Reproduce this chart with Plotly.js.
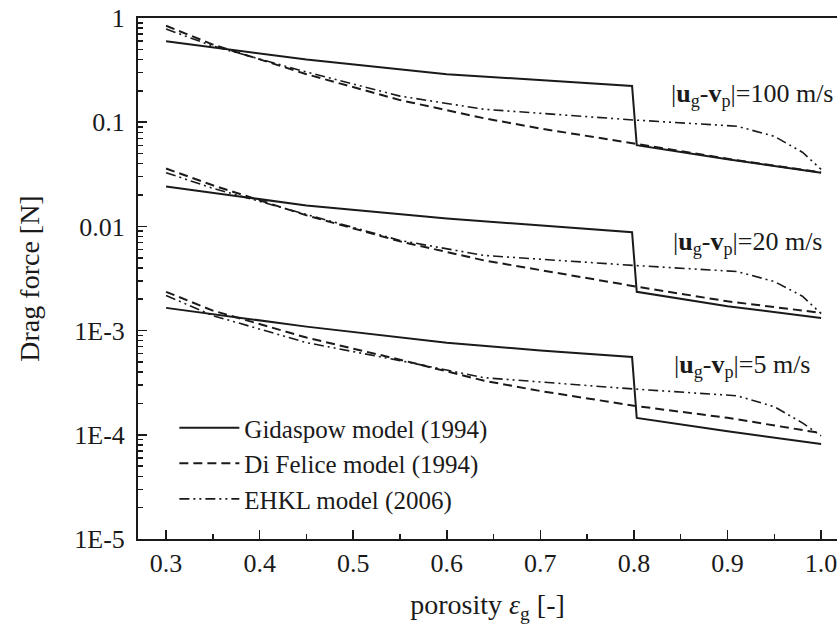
<!DOCTYPE html>
<html><head><meta charset="utf-8">
<script src="https://cdn.plot.ly/plotly-3.0.1.min.js"></script>
<style>html,body{margin:0;padding:0;background:#fff}#chart{width:837px;height:640px}</style>
</head><body><div id="chart"></div>
<script>
// porosity values (x) for each model
const porosityGidaspow = [0.3, 0.35, 0.45, 0.6, 0.7, 0.798, 0.803, 0.9, 1.0];
const porosityDiFelice = [0.3, 0.35, 0.45, 0.55, 0.64, 0.7, 0.8, 0.9, 1.0];
const porosityEHKL     = [0.3, 0.35, 0.45, 0.55, 0.64, 0.7, 0.8, 0.91, 0.95, 0.98, 1.0];

// Drag force [N], slip velocity 100 m/s
const gidaspow100 = [0.597, 0.522, 0.40, 0.289, 0.254, 0.223, 0.0601, 0.044, 0.0328];
const diFelice100 = [0.843, 0.556, 0.289, 0.163, 0.109, 0.087, 0.0625, 0.0445, 0.0330];
const ehkl100     = [0.783, 0.538, 0.303, 0.178, 0.133, 0.1217, 0.105, 0.0915, 0.0732, 0.0515, 0.0353];

// slip velocity 20 m/s
const gidaspow20 = [0.0241, 0.0210, 0.0159, 0.01189, 0.01014, 0.00881, 0.002355, 0.001715, 0.001324];
const diFelice20 = [0.0359, 0.0248, 0.01277, 0.00718, 0.00471, 0.00379, 0.00267, 0.00191, 0.00148];
const ehkl20     = [0.0328, 0.0232, 0.01303, 0.00733, 0.00526, 0.00482, 0.00422, 0.00369, 0.00296, 0.00214, 0.001455];

// slip velocity 5 m/s
const gidaspow5 = [0.001652, 0.001442, 0.001092, 0.000766, 0.000645, 0.000558, 0.000145, 0.000108, 0.0000818];
const diFelice5 = [0.002355, 0.001556, 0.000857, 0.000526, 0.000330, 0.000263, 0.000190, 0.0001456, 0.0001038];
const ehkl5     = [0.002174, 0.001393, 0.000767, 0.000515, 0.000353, 0.000321, 0.000275, 0.000237, 0.000186, 0.000130, 0.0000977];

const modelNames = ['Gidaspow model (1994)', 'Di Felice model (1994)', 'EHKL model (2006)'];
const xTickVals = [0.3, 0.4, 0.5, 0.6, 0.7, 0.8, 0.9, 1.0];
const xTickText = ['0.3', '0.4', '0.5', '0.6', '0.7', '0.8', '0.9', '1.0'];
const yTickVals = [1e-5, 1e-4, 1e-3, 1e-2, 1e-1, 1];
const yTickText = ['1E-5', '1E-4', '1E-3', '0.01', '0.1', '1'];
const velocityLabels = ['100', '20', '5'];

const INK = '#1a1a1a';
const dashes = ['solid', '9px,5px', '10px,4px,2px,4px,2px,4px'];
const widths = [2, 2, 1.6];

const groups = [
  {x: porosityGidaspow, sets: [gidaspow100, gidaspow20, gidaspow5]},
  {x: porosityDiFelice, sets: [diFelice100, diFelice20, diFelice5]},
  {x: porosityEHKL, sets: [ehkl100, ehkl20, ehkl5]}
];

const traces = [];
groups.forEach((g, gi) => {
  g.sets.forEach((ys, si) => {
    traces.push({
      type: 'scatter', mode: 'lines',
      x: g.x, y: ys,
      name: modelNames[gi], legendgroup: 'm' + gi,
      showlegend: si === 0,
      line: {color: INK, width: widths[gi], dash: dashes[gi]},
      hoverinfo: 'skip'
    });
  });
});

// minor ticks
const xMinor = [];
for (let v = 0.35; v < 1.0; v += 0.1) xMinor.push(+v.toFixed(2));
const yMinor = [];
for (let e = -5; e < 0; e++) for (let m = 2; m <= 9; m++) yMinor.push(+(m * Math.pow(10, e)).toPrecision(3));

const FONT = "'Liberation Serif', 'Times New Roman', Times, serif";

const labelPos = [
  {x: 0.759, y: 0.852},
  {x: 0.762, y: 0.568},
  {x: 0.764, y: 0.332}
];
const annotations = velocityLabels.map((v, i) => ({
  xref: 'paper', yref: 'paper', x: labelPos[i].x, y: labelPos[i].y,
  xanchor: 'left', yanchor: 'middle', showarrow: false,
  text: '|<b>u</b><sub>g</sub>-<b>v</b><sub>p</sub>|=' + v + ' m/s',
  font: {family: FONT, size: 26, color: INK}
}));

const layout = {
  width: 837, height: 640,
  margin: {l: 138, r: 0, t: 18, b: 101},
  paper_bgcolor: '#fff', plot_bgcolor: '#fff',
  font: {family: FONT, color: INK, size: 26},
  showlegend: true,
  xaxis: {
    range: [0.27, 1.017],
    tickmode: 'array', tickvals: xTickVals, ticktext: xTickText,
    ticks: 'inside', ticklen: 9, tickwidth: 1.5, tickcolor: INK,
    showline: true, linewidth: 2, linecolor: INK, mirror: true,
    showgrid: false, zeroline: false,
    tickfont: {family: FONT, size: 26, color: INK},
    ticklabelstandoff: 0, ticklabeloverflow: 'allow',
    minor: {tickmode: 'array', tickvals: xMinor, ticks: 'inside', ticklen: 5, tickwidth: 1.5, tickcolor: INK, showgrid: false},
    title: {text: 'porosity <i>ε</i><sub>g</sub> [-]', font: {family: FONT, size: 28, color: INK}, standoff: 17}
  },
  yaxis: {
    type: 'log', range: [-5, 0],
    tickmode: 'array', tickvals: yTickVals, ticktext: yTickText,
    ticks: 'inside', ticklen: 9, tickwidth: 1.5, tickcolor: INK,
    showline: true, linewidth: 2, linecolor: INK, mirror: false,
    showgrid: false, zeroline: false,
    tickfont: {family: FONT, size: 26, color: INK},
    ticklabelstandoff: 6, ticklabeloverflow: 'allow',
    minor: {tickmode: 'array', tickvals: yMinor, ticks: 'inside', ticklen: 5, tickwidth: 1.5, tickcolor: INK, showgrid: false},
    title: {text: 'Drag force [N]', font: {family: FONT, size: 28, color: INK}, standoff: 26}
  },
  legend: {
    x: 0.052, y: 0.257, xanchor: 'left', yanchor: 'top',
    bgcolor: 'rgba(0,0,0,0)', borderwidth: 0,
    font: {family: FONT, size: 25, color: INK},
    itemwidth: 60, tracegroupgap: 0
  },
  annotations: annotations
};

Plotly.newPlot('chart', traces, layout, {staticPlot: true, displayModeBar: false});
</script></body></html>
